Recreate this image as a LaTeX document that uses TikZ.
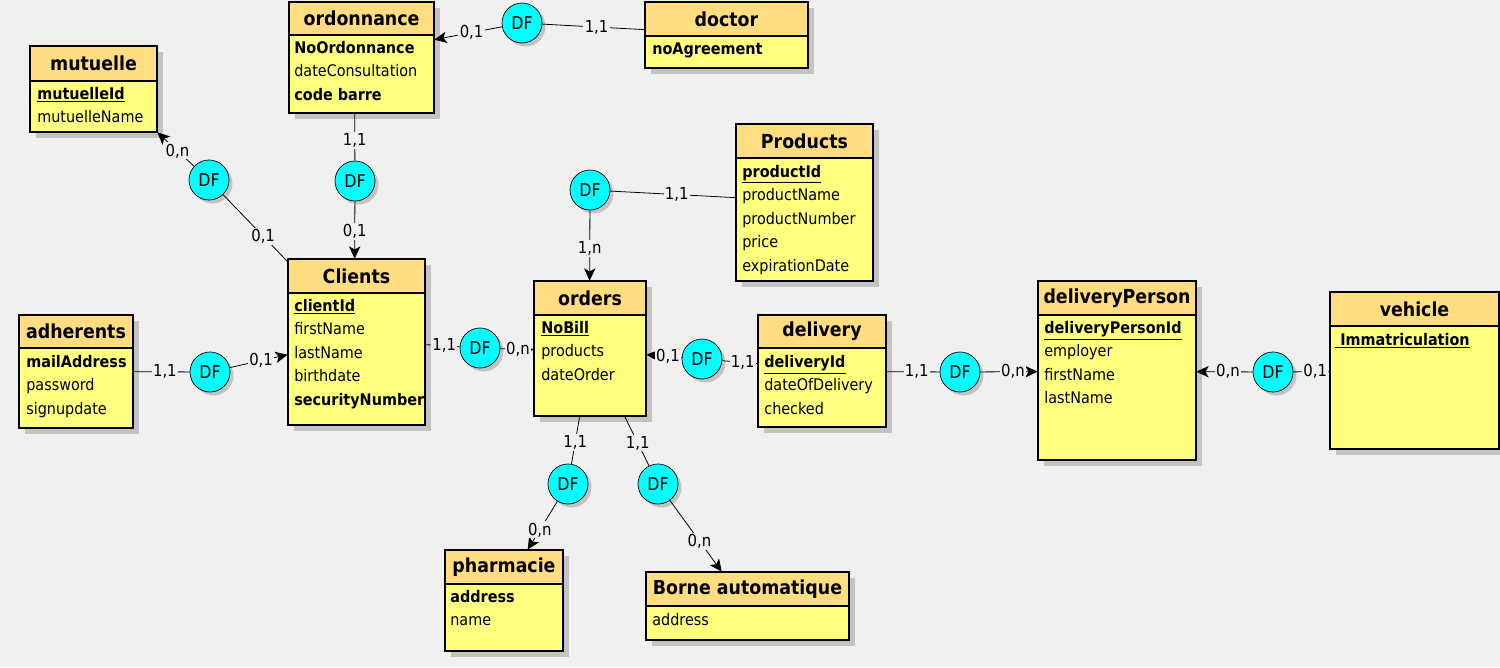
\documentclass[tikz,border=0pt]{standalone}
\usepackage{fontspec}
\setmainfont{DejaVu Sans Condensed}
\usetikzlibrary{positioning}
\usetikzlibrary{calc}
\usetikzlibrary{fit}
\usetikzlibrary{shadows}
\usetikzlibrary{arrows.meta}

\definecolor{bgcolor}{RGB}{240,240,240}
\definecolor{headcolor}{RGB}{255,221,128}
\definecolor{bodycolor}{RGB}{255,255,128}
\definecolor{shadowcolor}{RGB}{195,195,195}
\definecolor{dfcolor}{RGB}{0,255,255}

\tikzset{
    title/.style    = {inner sep = 0, font = \fontsize{11}{13}\selectfont\bfseries},
    attr/.style     = {anchor = base west, inner sep = 0, font = \fontsize{9.1}{12}\selectfont},
    df/.style       = {circle, draw = black, fill = dfcolor, minimum size = 0.8cm, inner sep = 0,
                       font = \fontsize{10}{12}\selectfont,
                       drop shadow = {fill = shadowcolor, opacity = 1, shadow xshift = 0.07cm, shadow yshift = -0.07cm}},
    card/.style     = {fill = bgcolor, inner sep = 0.8pt, font = \fontsize{9.4}{12}\selectfont},
    link/.style     = {line width = 0.45pt},
    arrowlink/.style = {link, -{Stealth[length = 7pt, width = 6.5pt, inset = 1.8pt]}}
}

% primary keys
\newcommand{\pk}[1]{\underline{\textbf{#1}}}

% entity box: name, left, top, right, bottom, header bottom, title
\newcommand{\entity}[7]{%
    \fill [shadowcolor] (#2+6,#3+6) rectangle (#4+6,#5+6);
    \fill [bodycolor] (#2,#3) rectangle (#4,#5);
    \fill [headcolor] (#2,#3) rectangle (#4,#6);
    \draw [line width = 0.6pt] (#2,#6) -- (#4,#6);
    \draw [line width = 0.6pt] (#2,#3) rectangle (#4,#5);
    \node [inner sep = 0, fit = {(#2,#3) (#4,#5)}] (#1) {};
    \node [title] (#1-title) at ({(#2+#4)/2},{(#3+#6)/2}) {#7};
}

% attribute lines: name, x, first baseline, list
\newcommand{\attrs}[4]{%
    \foreach \t [count = \i] in {#4}
        \node [attr] (#1-\i) at (#2, #3+23.6*\i-23.6) {\t};
}

\begin{document}
\begin{tikzpicture}[x = 0.02cm, y = -0.02cm]
    \fill [bgcolor] (0,0) rectangle (1500,667);
    \useasboundingbox (0,0) rectangle (1500,667);

    % Draw the entities:
    \entity{ordonnance}{289}{2}{434}{113}{35}{ordonnance}
    \attrs{ordonnance}{294}{53}{\textbf{NoOrdonnance}, dateConsultation, \textbf{code barre}}

    \entity{doctor}{645}{2}{808}{68}{36}{doctor}
    \attrs{doctor}{652}{54}{\textbf{noAgreement}}

    \entity{mutuelle}{30}{46}{157}{132}{81}{mutuelle}
    \attrs{mutuelle}{37}{99}{\pk{mutuelleId}, mutuelleName}

    \entity{products}{736}{124}{873}{281}{158}{Products}
    \attrs{products}{742}{177}{\pk{productId}, productName, productNumber, price, expirationDate}

    \entity{clients}{288}{259}{425}{425}{293}{Clients}
    \attrs{clients}{294}{311}{\pk{clientId}, firstName, lastName, birthdate, \textbf{securityNumber}}

    \entity{adherents}{19}{315}{133}{428}{348}{adherents}
    \attrs{adherents}{26}{367}{\textbf{mailAddress}, password, signupdate}

    \entity{orders}{534}{281}{646}{416}{315}{orders}
    \attrs{orders}{541}{333}{\pk{NoBill}, products, dateOrder}

    \entity{delivery}{758}{315}{886}{427}{348}{delivery}
    \attrs{delivery}{764}{367}{\pk{deliveryId}, dateOfDelivery, checked}

    \entity{deliveryPerson}{1038}{281}{1196}{460}{315}{deliveryPerson}
    \attrs{deliveryPerson}{1044}{333}{\pk{deliveryPersonId}, employer, firstName, lastName}

    \entity{vehicle}{1330}{292}{1499}{449}{326}{vehicle}
    \attrs{vehicle}{1335}{345}{\pk{~Immatriculation}}

    \entity{pharmacie}{445}{550}{563}{651}{584}{pharmacie}
    \attrs{pharmacie}{450}{602}{\textbf{address}, name}

    \entity{borne}{646}{572}{849}{640}{606}{Borne automatique}
    \attrs{borne}{652}{625}{address}

    % Draw the dependencies:
    \node [df] (df1)  at (522,23)  {DF};
    \node [df] (df2)  at (209,180) {DF};
    \node [df] (df3)  at (355,181) {DF};
    \node [df] (df4)  at (590,190) {DF};
    \node [df] (df5)  at (210,372) {DF};
    \node [df] (df6)  at (480,348) {DF};
    \node [df] (df7)  at (702,359) {DF};
    \node [df] (df8)  at (960,372) {DF};
    \node [df] (df9)  at (1273,372) {DF};
    \node [df] (df10) at (568,484) {DF};
    \node [df] (df11) at (658,484) {DF};

    % Draw the links:
    \draw [arrowlink] (df1) -- node [card, pos = .45] {0,1} ($(ordonnance.north east)+(0,38)$);
    \draw [link] (df1) -- node [card, pos = .53] {1,1} ($(doctor.north west)+(0,28)$);

    \draw [arrowlink] (df2) -- node [card, pos = .45] {0,n} (mutuelle.south east);
    \draw [link] (df2) -- node [card, pos = .62] {0,1} ($(clients.north west)+(0,3)$);

    \draw [link] ($(ordonnance.south west)+(66,0)$) -- node [card, pos = .58] {1,1} (df3);
    \draw [arrowlink] (df3) -- node [card, pos = .53] {0,1} ($(clients.north west)+(67,0)$);

    \draw [link] (df4) -- node [card, pos = .53] {1,1} ($(products.north west)+(0,74)$);
    \draw [arrowlink] (df4) -- node [card, pos = .54] {1,n} ($(orders.north west)+(56,0)$);

    \draw [link] ($(adherents.north east)+(0,57)$) -- node [card, pos = .56] {1,1} (df5);
    \draw [arrowlink] (df5) -- node [card, pos = .54] {0,1} ($(clients.north west)+(0,96)$);

    \draw [link] ($(clients.north east)+(0,86)$) -- node [card, pos = .55] {1,1} (df6);
    \draw [arrowlink] (df6) -- node [card, pos = .53] {0,n} ($(orders.north west)+(0,69)$);

    \draw [arrowlink] (df7) -- node [card, pos = .39] {0,1} ($(orders.north east)+(0,74)$);
    \draw [link] (df7) -- node [card, pos = .58] {1,1} ($(delivery.north west)+(0,49)$);

    \draw [link] ($(delivery.north east)+(0,57)$) -- node [card, pos = .57] {1,1} (df8);
    \draw [arrowlink] (df8) -- node [card, pos = .57] {0,n} ($(deliveryPerson.north west)+(0,91)$);

    \draw [arrowlink] (df9) -- node [card, pos = .44] {0,n} ($(deliveryPerson.north east)+(0,91)$);
    \draw [link] (df9) -- node [card, pos = .6] {0,1} ($(vehicle.north west)+(0,80)$);

    \draw [link] ($(orders.south west)+(46,0)$) -- node [card, pos = .55] {1,1} (df10);
    \draw [arrowlink] (df10) -- node [card, pos = .59] {0,n} ($(pharmacie.north west)+(83,0)$);

    \draw [link] ($(orders.south west)+(91,0)$) -- node [card, pos = .54] {1,1} (df11);
    \draw [arrowlink] (df11) -- node [card, pos = .57] {0,n} ($(borne.north west)+(76,0)$);
\end{tikzpicture}
\end{document}
